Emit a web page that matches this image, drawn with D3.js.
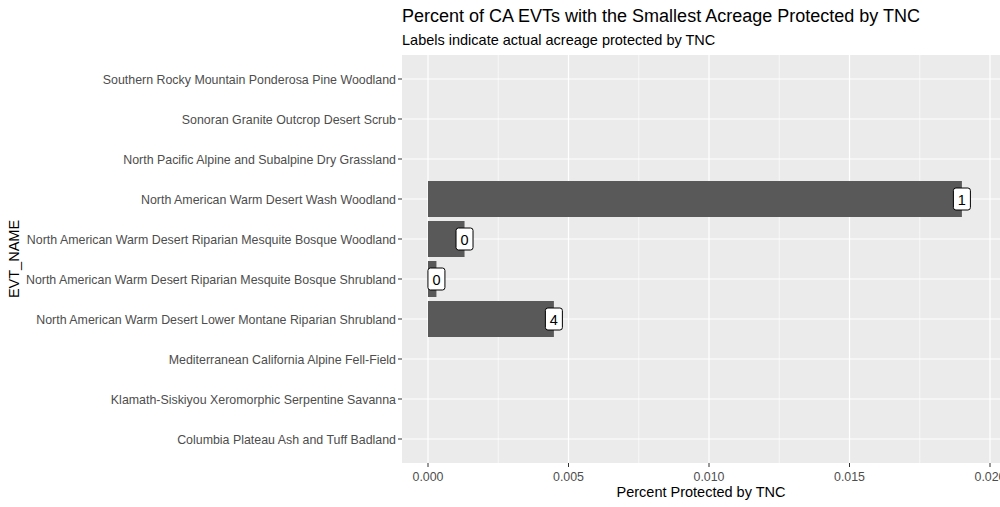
<!DOCTYPE html>
<html>
<head>
<meta charset="utf-8">
<script src="https://cdn.jsdelivr.net/npm/d3@7"></script>
<style>
body{margin:0;background:#fff;font-family:"Liberation Sans",Arial,sans-serif}
</style>
</head>
<body>
<svg id="chart" width="1000" height="507"></svg>
<script>
// categories top to bottom as drawn
var categories=["Southern Rocky Mountain Ponderosa Pine Woodland",
"Sonoran Granite Outcrop Desert Scrub",
"North Pacific Alpine and Subalpine Dry Grassland",
"North American Warm Desert Wash Woodland",
"North American Warm Desert Riparian Mesquite Bosque Woodland",
"North American Warm Desert Riparian Mesquite Bosque Shrubland",
"North American Warm Desert Lower Montane Riparian Shrubland",
"Mediterranean California Alpine Fell-Field",
"Klamath-Siskiyou Xeromorphic Serpentine Savanna",
"Columbia Plateau Ash and Tuff Badland"]
var percents=[0,0,0,0.0190,0.0013,0.0003,0.00448,0,0,0]
var acres=[null,null,null,"1","0","0","4",null,null,null]
var xTicks=[0,0.005,0.010,0.015,0.020]
var xMinor=[0.0025,0.0075,0.0125,0.0175]

var svg=d3.select("#chart")
var pLeft=402,pRight=1000,pTop=55,pBottom=463

var x=d3.scaleLinear().domain([0,0.02]).range([428,990])
// discrete axis: 10 bands plus 0.6 expansion each side
var y=d3.scalePoint().domain(categories).range([pTop,pBottom]).padding(0.6)
var step=y.step()

var data=categories.map(function(c,i){return {name:c,pct:percents[i],lab:acres[i]}})

svg.append("rect").attr("x",pLeft).attr("y",pTop).attr("width",pRight-pLeft).attr("height",pBottom-pTop).attr("fill","#EBEBEB")

svg.selectAll(".minor").data(xMinor).enter().append("line")
.attr("x1",function(d){return x(d)}).attr("x2",function(d){return x(d)})
.attr("y1",pTop).attr("y2",pBottom).attr("stroke","#fff").attr("stroke-width",0.6)

svg.selectAll(".major").data(xTicks).enter().append("line")
.attr("x1",function(d){return x(d)}).attr("x2",function(d){return x(d)})
.attr("y1",pTop).attr("y2",pBottom).attr("stroke","#fff").attr("stroke-width",1.2)

svg.selectAll(".hgrid").data(data).enter().append("line")
.attr("x1",pLeft).attr("x2",pRight)
.attr("y1",function(d){return y(d.name)}).attr("y2",function(d){return y(d.name)})
.attr("stroke","#fff").attr("stroke-width",1.2)

svg.selectAll(".bar").data(data.filter(function(d){return d.pct>0})).enter().append("rect")
.attr("x",x(0)).attr("width",function(d){return x(d.pct)-x(0)})
.attr("y",function(d){return y(d.name)-step*0.45}).attr("height",step*0.9)
.attr("fill","#595959")

var labs=svg.selectAll(".lab").data(data.filter(function(d){return d.lab!==null})).enter().append("g")
.attr("transform",function(d){return "translate("+x(d.pct)+","+y(d.name)+")"})
labs.append("rect").attr("x",-8.5).attr("y",-11).attr("width",17).attr("height",22)
.attr("rx",2.5).attr("fill","#fff").attr("stroke","#000").attr("stroke-width",1)
labs.append("text").attr("text-anchor","middle").attr("y",5.5)
.attr("font-size",14.5).attr("fill","#000").text(function(d){return d.lab})

// y axis
svg.selectAll(".ytick").data(data).enter().append("line")
.attr("x1",pLeft-4).attr("x2",pLeft).attr("y1",function(d){return y(d.name)}).attr("y2",function(d){return y(d.name)})
.attr("stroke","#333").attr("stroke-width",1)
svg.selectAll(".ylab").data(data).enter().append("text")
.attr("x",pLeft-6).attr("y",function(d){return y(d.name)+4.5}).attr("text-anchor","end")
.attr("font-size",12.4).attr("fill","#4D4D4D").text(function(d){return d.name})

// x axis
svg.selectAll(".xtick").data(xTicks).enter().append("line")
.attr("x1",function(d){return x(d)}).attr("x2",function(d){return x(d)})
.attr("y1",pBottom).attr("y2",pBottom+4).attr("stroke","#333")
svg.selectAll(".xlab").data(xTicks).enter().append("text")
.attr("x",function(d){return x(d)}).attr("y",pBottom+18).attr("text-anchor","middle")
.attr("font-size",12.4).attr("fill","#4D4D4D").text(function(d){return d3.format(".3f")(d)})

svg.append("text").attr("x",(pLeft+pRight)/2).attr("y",497).attr("text-anchor","middle")
.attr("font-size",14.5).attr("fill","#000").text("Percent Protected by TNC")
svg.append("text").attr("transform","translate(19,"+((pTop+pBottom)/2)+") rotate(-90)")
.attr("text-anchor","middle").attr("font-size",14.5).attr("fill","#000").text("EVT_NAME")

svg.append("text").attr("x",pLeft).attr("y",22).attr("font-size",18).attr("fill","#000")
.text("Percent of CA EVTs with the Smallest Acreage Protected by TNC")
svg.append("text").attr("x",pLeft).attr("y",45).attr("font-size",14.5).attr("fill","#000")
.text("Labels indicate actual acreage protected by TNC")
</script>
</body>
</html>
